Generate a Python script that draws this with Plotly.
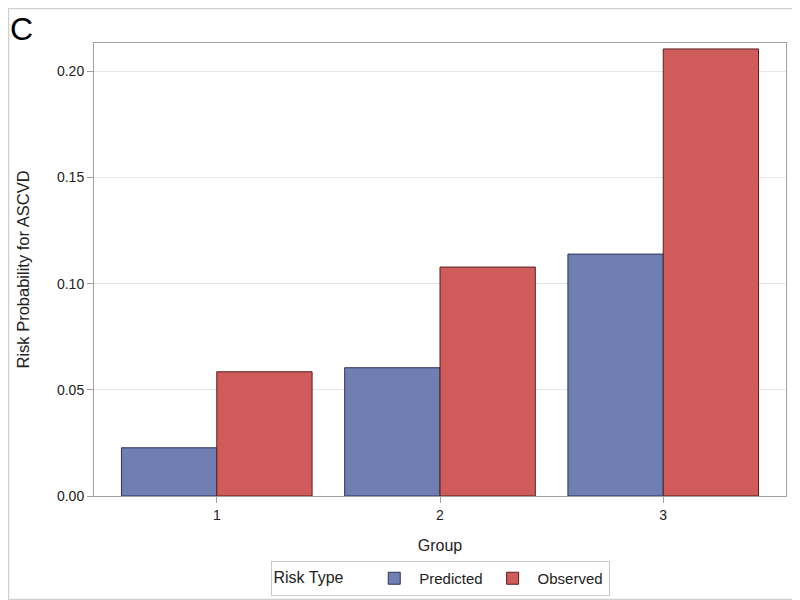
import plotly.graph_objects as go

groups = ["1", "2", "3"]
predicted = [0.0227, 0.0604, 0.1139]
observed = [0.0585, 0.1078, 0.2105]
series_names = ["Predicted", "Observed"]
y_ticks = [0.00, 0.05, 0.10, 0.15, 0.20]

FONT = "Liberation Sans, Arial, sans-serif"
fill_colors = ["#6F7EB3", "#D05B5B"]
line_colors = ["#2B3358", "#5A2020"]

fig = go.Figure()
for name, vals, fc, lc in zip(series_names, [predicted, observed], fill_colors, line_colors):
    fig.add_trace(go.Bar(
        x=groups, y=vals, name=name,
        marker=dict(color=fc, line=dict(color=lc, width=1)),
    ))

# the page body has an 8px margin, so the figure is sized to fit the window
OFF = 8
W, H = 800 - OFF, 600 - OFF
ml, mr, mt, mb = 94 - OFF, 14, 43 - OFF, 104
pw, ph = W - ml - mr, H - mt - mb

fig.update_layout(
    width=W, height=H,
    margin=dict(l=ml, r=mr, t=mt, b=mb, pad=0),
    paper_bgcolor="white", plot_bgcolor="white",
    font=dict(family=FONT, size=14, color="#222222"),
    barmode="group", bargap=0.146, bargroupgap=0,
    xaxis=dict(
        type="category", range=[-0.55, 2.55], automargin=False,
        title=dict(text="Group", standoff=18, font=dict(size=16)),
        showline=True, mirror=True, linecolor="#A0A0A0", linewidth=1,
        ticks="outside", ticklen=6, tickcolor="#A0A0A0",
        showgrid=False, zeroline=False,
    ),
    yaxis=dict(
        range=[0, 0.2133], automargin=False,
        tickvals=y_ticks, tickformat=".2f",
        showline=True, mirror=True, linecolor="#A0A0A0", linewidth=1,
        ticks="outside", ticklen=6, tickcolor="#A0A0A0",
        showgrid=True, gridcolor="#E6E6E6", gridwidth=1, zeroline=False,
    ),
    legend=dict(
        orientation="h", xref="paper", x=0.5, xanchor="center",
        yref="container", y=1 - (561 - OFF) / H, yanchor="top",
        title=dict(text="Risk Type    ", side="left", font=dict(size=16)),
        bordercolor="#C8C8C8", borderwidth=1, bgcolor="white",
        font=dict(size=15), itemwidth=40,
    ),
    annotations=[
        dict(
            text="C", xref="paper", yref="paper",
            x=-(ml - 0) / pw, y=1 + (mt - 1) / ph, xanchor="left", yanchor="top",
            showarrow=False, font=dict(size=32, family=FONT, color="#000000"),
        ),
        dict(
            text="Risk Probability for ASCVD", xref="paper", yref="paper",
            x=-(ml - (22 - OFF)) / pw, y=0.5, xanchor="center", yanchor="middle",
            textangle=-90, showarrow=False, font=dict(size=16.5, family=FONT, color="#222222"),
        ),
    ],
    shapes=[dict(
        type="rect", xref="paper", yref="paper", layer="below",
        x0=-(ml - 0.5) / pw, x1=1 + (mr - 0.5) / pw,
        y0=-(mb - 0.5) / ph, y1=1 + (mt - 0.5) / ph,
        line=dict(color="#D0D0D0", width=1.5), fillcolor="rgba(0,0,0,0)",
    )],
)

fig.write_html("out.html")
